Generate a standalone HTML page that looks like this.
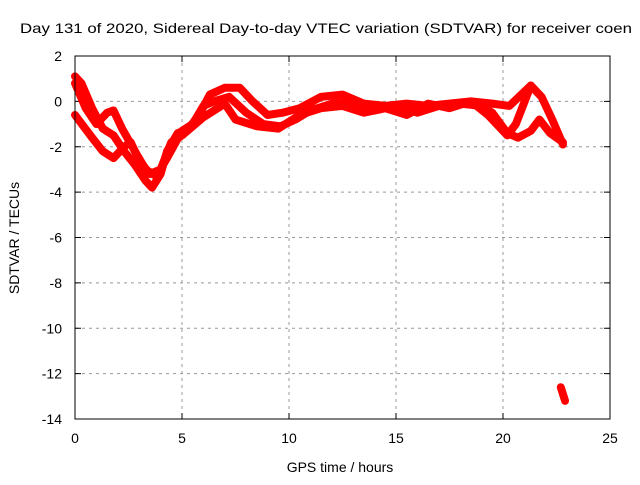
<!DOCTYPE html>
<html><head><meta charset="utf-8"><style>
body{margin:0;background:#fff}
svg text{font-family:"Liberation Sans",sans-serif;font-size:14px;fill:#000}
</style></head><body>
<svg id="c" width="640" height="480">
<text x="20" y="33" textLength="612" lengthAdjust="spacingAndGlyphs">Day 131 of 2020, Sidereal Day-to-day VTEC variation (SDTVAR) for receiver coen</text>
<text x="340" y="472" text-anchor="middle">GPS time / hours</text>
<text transform="translate(19,238) rotate(-90)" text-anchor="middle">SDTVAR / TECUs</text>
<g id="grid"></g><g id="ticks"></g><g id="marks"></g>
<rect x="75" y="56" width="535" height="363" fill="none" stroke="#000"/>
</svg>
<script>
const xTicks=[0,5,10,15,20,25];
const yTicks=[2,0,-2,-4,-6,-8,-10,-12,-14];
const traceAh=[0,0.3,0.8,1.3,1.8,2.3,2.8,3.3,3.6,4,4.3,4.8,5.3,5.8,6.3,7,7.7,8.3,9,9.7,10.5,11.5,12.5,13.5,14.5,15.5,16.5,17.5,18.5,19.5,20.3,21.3,21.8,22.3,22.8];
const traceAv=[1.1,0.8,-0.3,-1.2,-1.5,-2.2,-2.8,-3.5,-3.8,-3.2,-2.2,-1.4,-1.2,-0.6,0.3,0.6,0.6,0,-0.6,-0.5,-0.3,0.2,0.3,-0.1,-0.2,-0.1,-0.2,-0.1,0,-0.1,-0.2,0.7,0.2,-0.8,-1.9];
const traceBh=[0,0.5,1,1.5,1.8,2.2,2.8,3.3,3.8,4.3,5,5.5,6,6.5,7.2,8,8.8,9.6,10.3,11,12,13,14,15,16,17,18,19,19.5,20.2,20.7,21.3,21.7,22.2,22.8];
const traceBv=[0.8,-0.3,-1,-0.5,-0.4,-1.2,-2.2,-3,-3.3,-2.5,-1.3,-1,-0.2,0,0.2,-0.5,-1,-1.1,-0.8,-0.4,-0.1,0,-0.4,-0.2,-0.5,-0.2,-0.1,-0.2,-0.5,-1.4,-1.6,-1.3,-0.8,-1.4,-1.8];
const traceCh=[0,0.8,1.3,1.8,2.3,2.6,3,3.5,4,4.5,5,5.5,6,6.5,7,7.5,8.5,9.5,10.5,11.5,12.5,13.5,14.5,15.5,16.5,17.5,18.5,19.3,20.2,20.6,21.3];
const traceCv=[-0.6,-1.6,-2.2,-2.5,-2,-1.8,-2.6,-3.2,-3,-1.8,-1.5,-1.1,-0.7,-0.4,-0.1,-0.8,-1.1,-1.2,-0.6,-0.3,-0.2,-0.5,-0.3,-0.6,-0.1,-0.3,0,-0.6,-1.5,-1,0.7];
const outH=[22.7,22.9];
const outV=[-12.6,-13.2];
const X=h=>75+h*535/25, Y=v=>56+(2-v)*363/16;
const ns="http://www.w3.org/2000/svg";
const g=document.getElementById('grid'),t=document.getElementById('ticks'),m=document.getElementById('marks');
function mk(tag,a,p){const e=document.createElementNS(ns,tag);for(const k in a)e.setAttribute(k,a[k]);p.appendChild(e);return e;}
xTicks.forEach(v=>{const x=X(v);
 if(v>0&&v<25){const l=mk('line',{x1:x,x2:x,y1:56,y2:419,stroke:'#999','stroke-dasharray':'3,4'},g);
 
 }
 mk('line',{x1:x,x2:x,y1:419,y2:413,stroke:'#000'},t);mk('line',{x1:x,x2:x,y1:56,y2:62,stroke:'#000'},t);
 const tx=mk('text',{x:x,y:443,'text-anchor':'middle'},t);tx.textContent=v;
 
 });
yTicks.forEach(v=>{const y=Y(v);
 if(v<2&&v>-14){const l=mk('line',{x1:75,x2:610,y1:y,y2:y,stroke:'#999','stroke-dasharray':'3,4'},g);
 
 }
 mk('line',{x1:75,x2:81,y1:y,y2:y,stroke:'#000'},t);mk('line',{x1:610,x2:604,y1:y,y2:y,stroke:'#000'},t);
 const tx=mk('text',{x:62,y:y+5,'text-anchor':'end'},t);tx.textContent=v;
 
 });
function trace(hs,vs,name){
 const pts=hs.map((h,i)=>X(h)+','+Y(vs[i])).join(' ');
 const p=mk('polyline',{points:pts,fill:'none',stroke:'#f00','stroke-width':8,'stroke-linejoin':'round','stroke-linecap':'round'},m);
 
 }
trace(traceAh,traceAv,'series-track-a');
trace(traceBh,traceBv,'series-track-b');
trace(traceCh,traceCv,'series-track-c');
trace(outH,outV,'series-outlier');
</script>
</body></html>
